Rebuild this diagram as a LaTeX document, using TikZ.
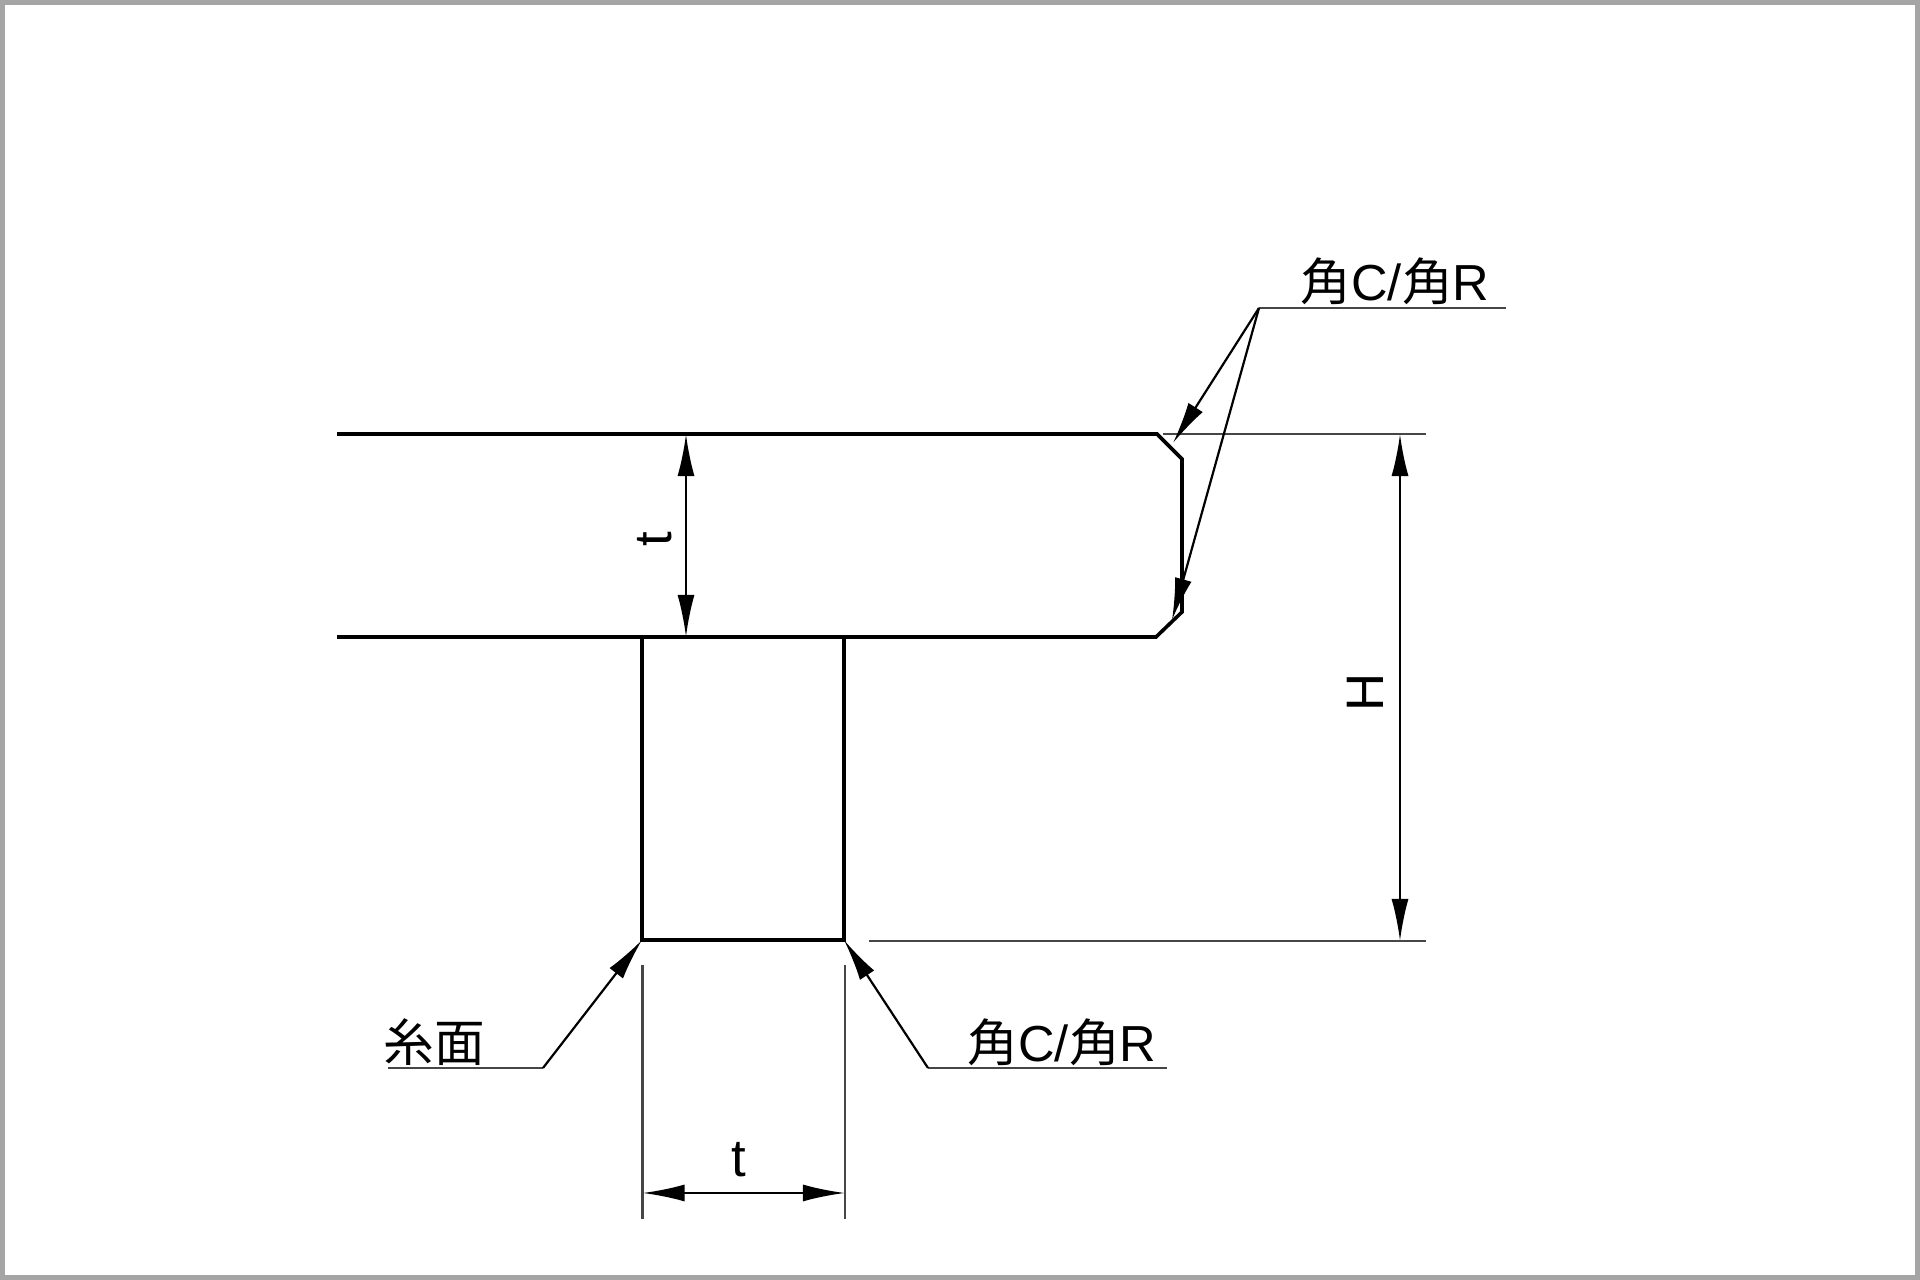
\documentclass[tikz,border=0pt]{standalone}
\usepackage{fontspec}
\setmainfont{Liberation Sans}
\newfontfamily\cjk{Noto Sans CJK JP}
\usetikzlibrary{arrows.meta}
\definecolor{color1}{RGB}{165,165,165}
\definecolor{color2}{RGB}{70,70,70}
\newcommand{\kaku}{{\cjk 角}C/{\cjk 角}R}

\begin{document}
\begin{tikzpicture}[x=0.01cm,y=-0.01cm]
\tikzset{outline/.style={draw,line width=0.036cm,line join=miter},
  thin line/.style={draw=color2,line width=0.024cm},
  dim line/.style={thin line,draw=black,{Latex[length=0.42cm,width=0.17cm]}-{Latex[length=0.42cm,width=0.17cm]}},
  leader/.style={draw,line width=0.022cm,-{Latex[length=0.42cm,width=0.17cm]}},
  label text/.style={inner sep=0pt,font=\fontsize{14.4}{16}\selectfont}}
\useasboundingbox (0,0) rectangle (1920,1280);
\draw [color1,line width=0.05cm] (2.5,2.5) rectangle (1917.5,1277.5);
% Puntos
\coordinate (T1) at (337,434);
\coordinate (T2) at (1157,434);
\coordinate (T3) at (1182,459);
\coordinate (T4) at (1182,612);
\coordinate (T5) at (1156,637);
\coordinate (T6) at (337,637);
\coordinate (W1) at (642,637);
\coordinate (W2) at (642,940);
\coordinate (W3) at (844,940);
\coordinate (W4) at (844,637);
% Perfil
\draw [outline] (T1) -- (T2) -- (T3) -- (T4) -- (T5) -- (T6);
\draw [outline] (W1) -- (W2) -- (W3) -- (W4);
% Cotas
\coordinate (E1) at (1163,434);
\coordinate (E2) at (1426,434);
\coordinate (E3) at (869,941);
\coordinate (E4) at (1426,941);
\draw [thin line] (E1) -- (E2);
\draw [thin line] (E3) -- (E4);
\coordinate (H1) at (1400,434);
\coordinate (H2) at (1400,941);
\draw [dim line] (H1) -- (H2);
\node [label text,rotate=90] (H) at (1365,692) {\fontsize{15}{16}\selectfont H};
\coordinate (A1) at (686,434);
\coordinate (A2) at (686,637);
\draw [dim line] (A1) -- (A2);
\node [label text,rotate=90] (tA) at (655,539) {\fontsize{15}{16}\selectfont t};
\coordinate (B1) at (642.5,965);
\coordinate (B2) at (642.5,1219);
\coordinate (B3) at (845,965);
\coordinate (B4) at (845,1219);
\draw [thin line] (B1) -- (B2);
\draw [thin line] (B3) -- (B4);
\coordinate (C1) at (642.5,1193);
\coordinate (C2) at (845,1193);
\draw [dim line] (C1) -- (C2);
\node [label text] (tB) at (739,1160) {\fontsize{15}{16}\selectfont t};
% Rotulos
\coordinate (L1) at (388,1068);
\coordinate (L2) at (543,1068);
\draw [thin line] (L1) -- (L2);
\draw [leader] (L2) -- (W2);
\node [label text] (itomen) at (434,1042) {\cjk 糸面};
\coordinate (R1) at (928,1068);
\coordinate (R2) at (1167,1068);
\draw [thin line] (R1) -- (R2);
\draw [leader] (R1) -- (W3);
\node [label text] (kakuA) at (1062,1042) {\kaku};
\coordinate (S1) at (1259,308);
\coordinate (S2) at (1506,308);
\coordinate (S3) at (1173,443);
\coordinate (S4) at (1172,620);
\draw [thin line] (S1) -- (S2);
\draw [leader] (S1) -- (S3);
\draw [leader] (S1) -- (S4);
\node [label text] (kakuB) at (1395,281) {\kaku};
\end{tikzpicture}
\end{document}
